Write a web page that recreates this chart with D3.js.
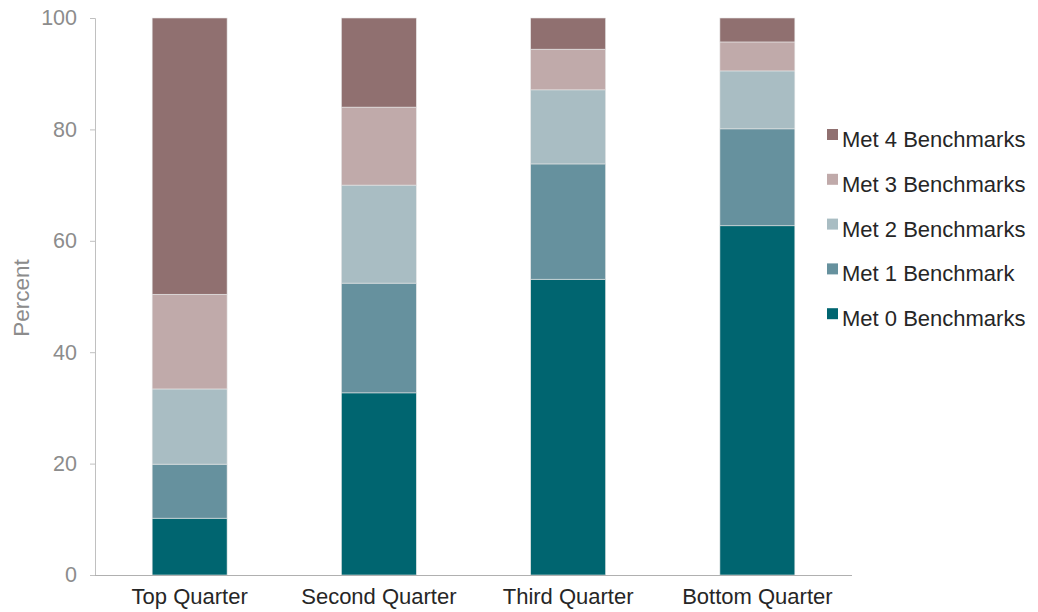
<!DOCTYPE html>
<html><head><meta charset="utf-8">
<script src="https://cdn.jsdelivr.net/npm/d3@7"></script>
<style>body{margin:0;background:#fff;} text{font-family:"Liberation Sans",Arial,sans-serif;}</style>
</head><body><svg id="c" width="1038" height="612"></svg>
<script>
const categories = ["Top Quarter","Second Quarter","Third Quarter","Bottom Quarter"];
const seriesNames = ["Met 0 Benchmarks","Met 1 Benchmark","Met 2 Benchmarks","Met 3 Benchmarks","Met 4 Benchmarks"];
const met0 = [10.2, 32.7, 53.1, 62.7];
const met1 = [9.7, 19.7, 20.7, 17.4];
const met2 = [13.5, 17.6, 13.3, 10.4];
const met3 = [17.0, 14.0, 7.3, 5.2];
const met4 = [49.6, 16.0, 5.6, 4.3];
const yTicks = [0,20,40,60,80,100];
const colors = ["#006570","#66919e","#a9bdc3","#c0aaaa","#907070"];

const seriesValues = [met0,met1,met2,met3,met4];
const rows = categories.map((c,i)=>{const r={cat:c}; seriesNames.forEach((s,j)=>r[s]=seriesValues[j][i]); return r;});
const stack = d3.stack().keys(seriesNames)(rows);

const svg = d3.select("#c");
const x = d3.scaleBand().domain(categories).range([95,852]).paddingInner(0.604).paddingOuter(0.302);
const y = d3.scaleLinear().domain([0,100]).range([575,18]);

svg.append("g").selectAll("g").data(stack).join("g").attr("fill",(d,i)=>colors[i])
 .selectAll("rect").data(d=>d).join("rect")
 .attr("x",d=>x(d.data.cat)).attr("width",x.bandwidth())
 .attr("y",d=>y(d[1])).attr("height",d=>y(d[0])-y(d[1]))
 .attr("stroke","#e6e6e6").attr("stroke-width",0.6);

const ya = svg.append("g").attr("transform","translate(95,0)").call(d3.axisLeft(y).tickValues(yTicks).tickSize(5).tickPadding(13));
ya.select(".domain").attr("stroke","#c0c0c0").attr("d","M-5,18.5H0.5V575");
ya.selectAll(".tick line").attr("stroke","#c0c0c0");
ya.selectAll("text").attr("fill","#8c8c8c").style("font-size","21.5px");

const xa = svg.append("g").attr("transform","translate(0,575)").call(d3.axisBottom(x).tickSize(0).tickPadding(13));
xa.select(".domain").attr("stroke","#b0b0b0").attr("d","M95,0.5H852");
xa.selectAll("text").attr("fill","#262626").style("font-size","22px");

svg.append("text").attr("transform","translate(29,298) rotate(-90)").attr("text-anchor","middle")
 .attr("fill","#8c8c8c").style("font-size","22.5px").text("Percent");

const leg = svg.append("g");
const order = [4,3,2,1,0];
order.forEach((si,k)=>{
  const g = leg.append("g").attr("transform",`translate(827,${139+k*44.8})`);
  g.append("rect").attr("x",0).attr("y",-10).attr("width",11).attr("height",11).attr("fill",colors[si]);
  g.append("text").attr("x",15).attr("y",8).attr("fill","#262626").style("font-size","22px").text(seriesNames[si]);
});
</script></body></html>
